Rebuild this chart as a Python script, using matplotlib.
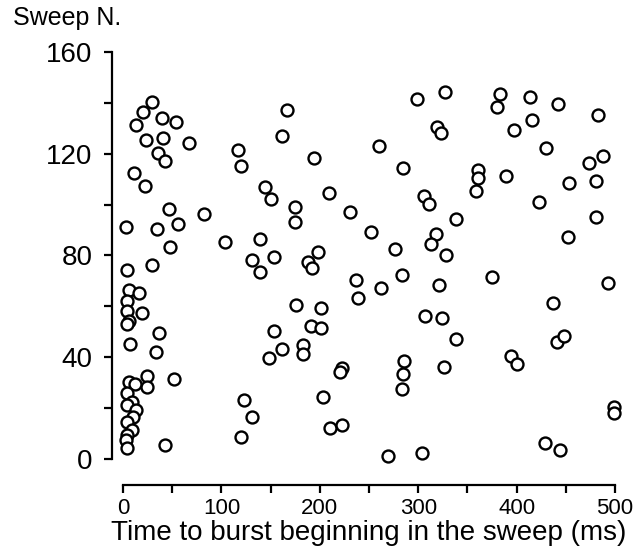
import matplotlib
matplotlib.use("Agg")
import matplotlib.pyplot as plt

plt.rcParams['font.family'] = ['Liberation Sans', 'DejaVu Sans']

# burst onset time (ms) and sweep number
time_ms = [
    29.4, 20.2, 13.2, 39.5, 53.6, 23.3, 40.5, 66.8, 35.4, 42.5, 11.1, 22.3,
    46.6, 82.0, 3.0, 34.4, 55.7, 47.6, 29.4, 4.0, 6.0, 16.2, 4.0, 4.0, 19.2, 6.0, 4.0,
    36.4, 7.0, 33.4, 6.0, 24.3, 24.3, 51.6, 12.0, 4.0, 9.0, 4.0, 13.2, 10.0, 4.0, 9.0,
    4.0, 3.0, 4.0, 42.5,
    103.2, 116.4, 120.4, 144.7, 150.8, 139.7, 130.6, 139.7, 153.8, 122.5, 130.6, 120.4,
    153.8, 148.8, 162.0,
    167.0, 162.0, 194.3, 175.0, 175.0, 209.5, 230.8, 252.0, 276.0, 198.4, 187.9, 192.3,
    236.8, 238.9, 262.0, 283.4, 176.0, 201.4, 191.3, 201.4, 183.2, 183.2, 222.7, 220.6,
    203.4, 210.5, 222.7,
    260.0, 284.4, 285.4, 284.4, 283.4, 269.2, 303.6,
    298.6, 327.0, 319.0, 323.0, 305.7, 310.7, 318.0, 313.0, 328.3, 321.0, 306.7, 324.0,
    338.0, 338.0, 326.0,
    383.6, 380.6, 414.0, 442.0, 483.0, 397.8, 416.0, 430.0, 473.7, 487.9, 360.3, 360.3,
    389.0, 453.4, 480.8,
    358.3, 423.0, 480.8, 452.4, 375.5, 493.0, 437.0, 394.7, 400.8, 441.3, 448.4, 499.0,
    499.0, 429.0, 444.3,
]
sweep_n = [
    140.3, 136.4, 131.3, 134.0, 132.5, 125.4, 126.2, 124.2, 120.3, 117.1, 112.4, 107.3,
    98.3, 96.3, 91.2, 90.4, 92.4, 83.3, 76.3, 74.3, 66.4, 65.3, 62.1, 58.2, 57.4, 54.2, 53.1,
    49.5, 45.2, 42.1, 30.3, 32.6, 28.3, 31.4, 29.5, 25.9, 22.4, 21.2, 19.3, 16.5, 14.5, 11.4,
    9.4, 7.5, 4.3, 5.5,
    85.3, 121.5, 115.2, 106.9, 102.2, 86.5, 78.2, 73.5, 79.4, 23.2, 16.5, 8.6,
    50.3, 39.5, 43.2,
    137.2, 127.0, 118.3, 99.0, 93.2, 104.5, 97.1, 89.2, 82.5, 81.4, 77.4, 75.1,
    70.4, 63.3, 67.2, 72.3, 60.5, 59.4, 52.3, 51.5, 44.8, 41.3, 35.8, 34.2,
    24.4, 12.2, 13.4,
    123.0, 114.4, 38.5, 33.4, 27.5, 1.2, 2.4,
    141.5, 144.3, 130.5, 128.1, 103.4, 100.2, 88.4, 84.5, 80.2, 68.4, 56.2, 55.4,
    94.3, 47.2, 36.2,
    143.5, 138.4, 142.3, 139.5, 135.2, 129.3, 133.3, 122.2, 116.4, 119.1, 113.6, 110.5,
    111.2, 108.5, 109.3,
    105.3, 101.0, 95.1, 87.3, 71.5, 69.2, 61.3, 40.5, 37.3, 46.0, 48.4, 20.4,
    18.1, 6.3, 3.5,
]

x_ticks = [0, 50, 100, 150, 200, 250, 300, 350, 400, 450, 500]
x_labels = ["0", "", "100", "", "200", "", "300", "", "400", "", "500"]
y_ticks = [0, 20, 40, 60, 80, 100, 120, 140, 160]
y_labels = ["0", "", "40", "", "80", "", "120", "", "160"]

fig = plt.figure(figsize=(6.34, 5.5), dpi=100)
ax = fig.add_axes([0.194, 0.1655, 0.776, 0.74])

ax.scatter(time_ms, sweep_n, s=74, facecolors='white', edgecolors='black',
           linewidths=1.7, clip_on=False, zorder=3)

ax.set_xlim(0, 500)
ax.set_ylim(0, 160)

for side in ['top', 'right']:
    ax.spines[side].set_visible(False)
ax.spines['left'].set_position(('outward', 8))
ax.spines['bottom'].set_position(('outward', 19))
ax.spines['left'].set_bounds(0, 160)
ax.spines['bottom'].set_bounds(0, 500)
for side in ['left', 'bottom']:
    ax.spines[side].set_linewidth(1.6)

ax.set_xticks(x_ticks)
ax.set_xticklabels(x_labels)
ax.set_yticks(y_ticks)
ax.set_yticklabels(y_labels)
ax.tick_params(axis='y', direction='out', length=6, width=1.6, labelsize=20, pad=8)
ax.tick_params(axis='x', direction='out', length=6, width=1.6, labelsize=16, pad=3)

ax.set_xlabel("Time to burst beginning in the sweep (ms)", fontsize=20, labelpad=1)
fig.text(0.02, 0.99, "Sweep N.", fontsize=18, ha='left', va='top')

fig.savefig("out.png", dpi=100)
